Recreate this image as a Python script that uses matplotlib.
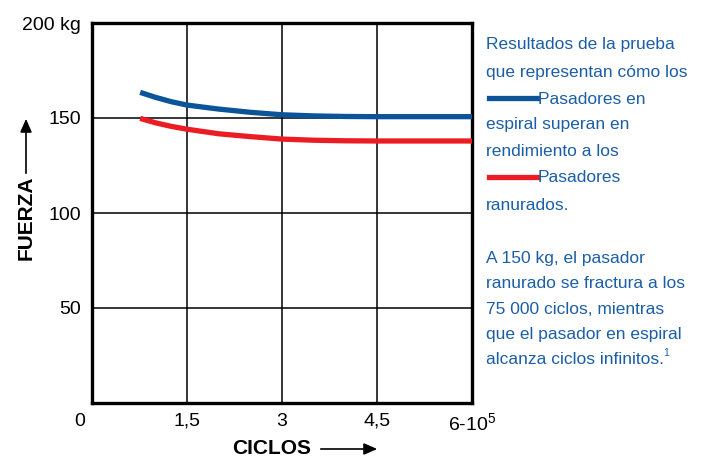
import matplotlib
matplotlib.use("Agg")
import matplotlib.pyplot as plt
from matplotlib.lines import Line2D
from matplotlib.patches import FancyArrowPatch
from matplotlib.transforms import ScaledTranslation

# datos
ciclos = [0.76, 1.0, 1.25, 1.5, 2.0, 2.5, 3.0, 3.5, 4.0, 4.5, 5.0, 6.0]
espiral = [163.5, 160.9, 158.6, 156.8, 154.7, 153.0, 151.7, 151.1, 150.8, 150.7, 150.7, 150.7]
ranurado = [149.8, 147.5, 145.6, 144.1, 141.7, 140.2, 138.9, 138.3, 138.0, 137.9, 137.9, 137.9]

x_ticks = [0, 1.5, 3, 4.5, 6]
x_labels = ["0", "1,5", "3", "4,5", "6-10$^{\\mathregular{5}}$"]
y_ticks = [50, 100, 150, 200]
y_labels = ["50", "100", "150", "200 kg"]

texto_1 = ["Resultados de la prueba", "que representan cómo los", "Pasadores en",
           "espiral superan en", "rendimiento a los", "Pasadores", "ranurados."]
texto_2 = ["A 150 kg, el pasador", "ranurado se fractura a los", "75 000 ciclos, mientras",
           "que el pasador en espiral", "alcanza ciclos infinitos."]

AZUL = "#0b5499"
ROJO = "#ec1c24"
AZUL_TXT = "#1c5ea6"

plt.rcParams["font.family"] = ["Liberation Sans", "DejaVu Sans"]
plt.rcParams["mathtext.fontset"] = "custom"
plt.rcParams["mathtext.rm"] = "Liberation Sans"

W, H = 703, 458
fig = plt.figure(figsize=(W / 100, H / 100), dpi=100)
ax = fig.add_axes([92 / W, 1 - 403 / H, 380 / W, 380 / H])

ax.plot(ciclos, espiral, color=AZUL, lw=3.8, solid_capstyle="butt", solid_joinstyle="round", zorder=3)
ax.plot(ciclos, ranurado, color=ROJO, lw=3.8, solid_capstyle="butt", solid_joinstyle="round", zorder=3)

ax.set_xlim(0, 6)
ax.set_ylim(0, 200)
ax.set_xticks(x_ticks)
ax.set_xticklabels(x_labels, fontsize=14)
ax.set_yticks(y_ticks)
ax.set_yticklabels(y_labels, fontsize=14)
ax.tick_params(length=0, pad=7)
ax.tick_params(axis="y", pad=8)
ax.grid(True, color="black", lw=1.1)
for s in ax.spines.values():
    s.set_linewidth(2.4)

# el "0" va corrido a la izquierda
lbl0 = ax.get_xticklabels()[0]
lbl0.set_transform(lbl0.get_transform() + ScaledTranslation(-12 / 100, 0, fig.dpi_scale_trans))

# titulos de ejes con flecha
fig.text(232 / W, 1 - 449 / H, "CICLOS", fontsize=15, fontweight="bold", ha="left", va="center")
fig.add_artist(FancyArrowPatch((318 / W, 1 - 449 / H), (380 / W, 1 - 449 / H), transform=fig.transFigure,
                               arrowstyle="-|>,head_length=8,head_width=3.5", color="black", lw=1.2,
                               mutation_scale=1))
fig.text(26 / W, 1 - 218 / H, "FUERZA", fontsize=15, fontweight="bold",
         rotation=90, ha="center", va="center")
fig.add_artist(FancyArrowPatch((26 / W, 1 - 176 / H), (26 / W, 1 - 116 / H), transform=fig.transFigure,
                               arrowstyle="-|>,head_length=8,head_width=3.5", color="black", lw=1.2,
                               mutation_scale=1))

# ajustar el tamaño del texto para que la linea mas ancha mida ~202 px
rend = fig.canvas.get_renderer()
prueba = fig.text(0, 0, texto_1[1], fontsize=14)
ancho = prueba.get_window_extent(rend).width
prueba.remove()
fs = 14 * 202 / ancho

x0 = 486
y_lineas = [45, 72, 99, 125, 152, 178, 205]
for i, t in enumerate(texto_1):
    xt = x0
    if i in (2, 5):
        col = AZUL if i == 2 else ROJO
        fig.add_artist(Line2D([489 / W, 537 / W], [1 - (y_lineas[i] - 1) / H] * 2,
                              transform=fig.transFigure, color=col, lw=3.8))
        xt = 538
    fig.text(xt / W, 1 - y_lineas[i] / H, t, fontsize=fs, color=AZUL_TXT, ha="left", va="center")

y_lineas2 = [258, 284, 309, 335, 360]
for i, t in enumerate(texto_2):
    ult = fig.text(x0 / W, 1 - y_lineas2[i] / H, t, fontsize=fs, color=AZUL_TXT, ha="left", va="center")
fin = ult.get_window_extent(rend)
fig.text((fin.x1 - 1) / W, 1 - 353 / H, "1", fontsize=7.5, color=AZUL_TXT, ha="left", va="center")

fig.savefig("out.png", dpi=100)
